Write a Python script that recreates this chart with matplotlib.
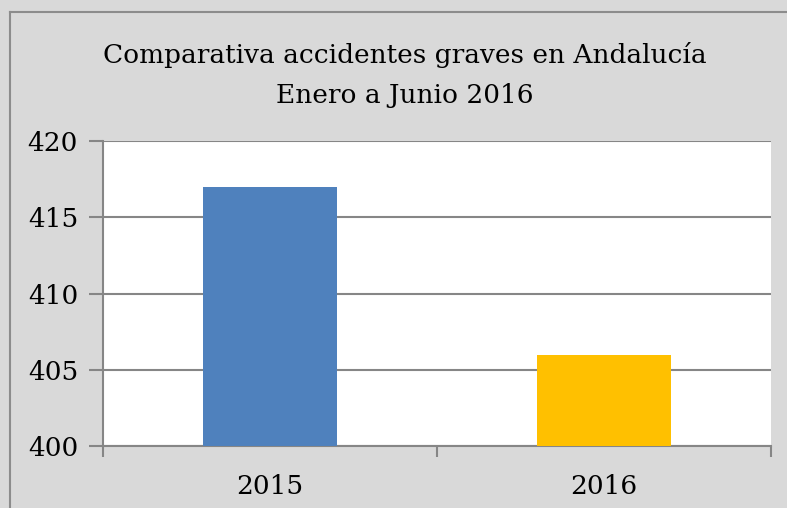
import matplotlib.pyplot as plt
from matplotlib.lines import Line2D

# datos
years = ['2015', '2016']
accidents = [417, 406]
bar_colors = ['#4F81BD', '#FFC000']

W, H = 787, 508
plt.rcParams['font.family'] = ['DejaVu Serif']

fig = plt.figure(figsize=(W / 100, H / 100), dpi=100, facecolor='#D9D9D9')
ax = fig.add_axes([103 / W, 1 - 446 / H, (771 - 103) / W, (446 - 141) / H])
ax.set_facecolor('white')

x = range(len(years))
ax.bar(x, accidents, width=0.4, color=bar_colors, zorder=3)
ax.set_xlim(-0.5, 1.5)
ax.set_ylim(400, 420)
ax.set_yticks([400, 405, 410, 415, 420])
ax.set_xticks([0, 1])
ax.set_xticklabels(years)
ax.set_xticks([-0.5, 0.5, 1.5], minor=True)

grid_c = '#868686'
ax.yaxis.grid(True, color=grid_c, linewidth=1.5, zorder=1)
for s in ['top', 'right']:
    ax.spines[s].set_visible(False)
for s in ['left', 'bottom']:
    ax.spines[s].set_color(grid_c)
    ax.spines[s].set_linewidth(1.5)
ax.tick_params(axis='y', length=10, width=1.5, color=grid_c, labelsize=19, pad=8)
ax.tick_params(axis='x', which='major', length=0, labelsize=19, pad=20)
ax.tick_params(axis='x', which='minor', length=8, width=1.5, color=grid_c)

fig.text(405 / W, 1 - 55 / H, 'Comparativa accidentes graves en Andalucía',
         ha='center', va='center', fontsize=19)
fig.text(405 / W, 1 - 95 / H, 'Enero a Junio 2016',
         ha='center', va='center', fontsize=19)

# borde
fig.add_artist(Line2D([10 / W, 1], [1 - 12 / H, 1 - 12 / H], color='#8C8C8C', linewidth=1.5))
fig.add_artist(Line2D([10 / W, 10 / W], [0, 1 - 12 / H], color='#8C8C8C', linewidth=1.5))

fig.savefig('out.png', dpi=100, facecolor=fig.get_facecolor())
